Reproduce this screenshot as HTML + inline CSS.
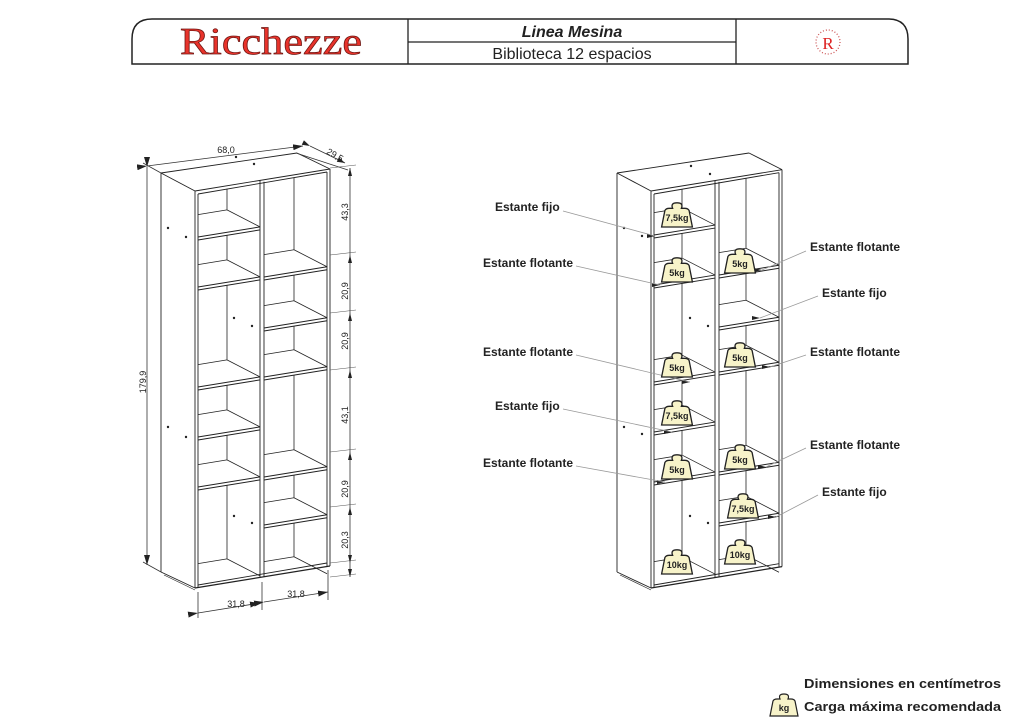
<!DOCTYPE html>
<html><head><meta charset="utf-8">
<style>
html,body{margin:0;padding:0;background:#fff;}
svg{display:block;}
.t{font-family:"Liberation Sans",sans-serif;}
</style></head>
<body>
<svg id="s" width="1024" height="726" viewBox="0 0 1024 726" xmlns="http://www.w3.org/2000/svg">
<defs>
<marker id="ar" markerWidth="10" markerHeight="6" refX="10" refY="3" orient="auto" markerUnits="userSpaceOnUse"><path d="M0,0 L10,3 L0,6 Z" fill="#222"/></marker>
<marker id="ar2" markerWidth="8" markerHeight="5" refX="8" refY="2.5" orient="auto" markerUnits="userSpaceOnUse"><path d="M0,0 L8,2.5 L0,5 Z" fill="#222"/></marker>
<path id="wt" d="M-14,10 L-11,-5 Q-10,-7 -7,-7 L-4,-7 Q-6,-12 0,-12 Q6,-12 4,-7 L7,-7 Q10,-7 11,-5 L14,10 Z" fill="#f7f3c9" stroke="#222" stroke-width="1.2"/>
</defs>
<!-- header -->
<path d="M132,64 L132,39 Q132,19 152,19 L888,19 Q908,19 908,39 L908,64 Z" fill="none" stroke="#222" stroke-width="1.5"/>
<line x1="408" y1="19" x2="408" y2="64" stroke="#222" stroke-width="1.3"/>
<line x1="736" y1="19" x2="736" y2="64" stroke="#222" stroke-width="1.3"/>
<line x1="408" y1="42" x2="736" y2="42" stroke="#222" stroke-width="1.3"/>
<text x="180" y="54" font-family="Liberation Serif,serif" font-size="38" fill="#e8332b" stroke="#6a1410" stroke-width="0.7" textLength="182" lengthAdjust="spacingAndGlyphs">Ricchezze</text>
<text x="572" y="37" text-anchor="middle" class="t" font-size="16" font-style="italic" font-weight="bold" fill="#222">Linea Mesina</text>
<text x="572" y="59" text-anchor="middle" class="t" font-size="16" fill="#222">Biblioteca 12 espacios</text>
<circle cx="828" cy="42" r="12" fill="none" stroke="#c55" stroke-width="1.3" stroke-dasharray="1 2"/>
<text x="828" y="49" text-anchor="middle" font-family="Liberation Serif,serif" font-size="17" fill="#d22">R</text>
<g id="draw"></g>
<!-- left dims -->
<g stroke="#333" stroke-width="0.8" fill="none">
<line x1="147" y1="167" x2="147" y2="565" marker-start="url(#ar)" marker-end="url(#ar)"/>
<line x1="161" y1="173" x2="143" y2="163"/>
<line x1="161" y1="572" x2="143" y2="562"/>
<line x1="147" y1="166" x2="303" y2="146" marker-start="url(#ar)" marker-end="url(#ar)"/>
<line x1="296" y1="153" x2="348" y2="170"/>
<line x1="310" y1="146" x2="345" y2="163" marker-start="url(#ar2)" marker-end="url(#ar2)"/>
<line x1="350" y1="168" x2="350" y2="577"/>
<line x1="198" y1="592" x2="198" y2="618"/>
<line x1="262" y1="582" x2="262" y2="610"/>
<line x1="328" y1="570" x2="328" y2="600"/>
<line x1="198" y1="613" x2="260" y2="603" marker-start="url(#ar)" marker-end="url(#ar)"/>
<line x1="264" y1="602" x2="328" y2="592" marker-start="url(#ar)" marker-end="url(#ar)"/>
</g>
<g id="vt"></g>
<g class="t" font-size="9" fill="#222">
<text x="226" y="153" text-anchor="middle">68,0</text>
<text x="335" y="158" text-anchor="middle" transform="rotate(30 335 155)">29,5</text>
<text transform="translate(146,382) rotate(-90)" text-anchor="middle">179,9</text>
<text transform="translate(348,212) rotate(-90)" text-anchor="middle">43,3</text>
<text transform="translate(348,291) rotate(-90)" text-anchor="middle">20,9</text>
<text transform="translate(348,341) rotate(-90)" text-anchor="middle">20,9</text>
<text transform="translate(348,415) rotate(-90)" text-anchor="middle">43,1</text>
<text transform="translate(348,489) rotate(-90)" text-anchor="middle">20,9</text>
<text transform="translate(348,540) rotate(-90)" text-anchor="middle">20,3</text>
<text x="236" y="607" text-anchor="middle">31,8</text>
<text x="296" y="597" text-anchor="middle">31,8</text>
</g>
<!-- leader lines -->
<g stroke="#999" stroke-width="0.8" fill="none">
<line x1="563" y1="211" x2="655" y2="236"/>
<line x1="576" y1="266" x2="660" y2="285"/>
<line x1="576" y1="355" x2="690" y2="382"/>
<line x1="563" y1="409" x2="672" y2="432"/>
<line x1="576" y1="466" x2="665" y2="482"/>
<line x1="806" y1="251" x2="762" y2="270"/>
<line x1="818" y1="296" x2="760" y2="318"/>
<line x1="806" y1="355" x2="770" y2="367"/>
<line x1="806" y1="448" x2="766" y2="467"/>
<line x1="818" y1="495" x2="776" y2="517"/>
</g>
<g class="t" font-size="12" font-weight="bold" fill="#222">
<text x="495" y="211">Estante fijo</text>
<text x="483" y="267">Estante flotante</text>
<text x="483" y="356">Estante flotante</text>
<text x="495" y="410">Estante fijo</text>
<text x="483" y="467">Estante flotante</text>
<text x="810" y="251">Estante flotante</text>
<text x="822" y="297">Estante fijo</text>
<text x="810" y="356">Estante flotante</text>
<text x="810" y="449">Estante flotante</text>
<text x="822" y="496">Estante fijo</text>
</g>
<g id="wts" class="t" font-size="9" font-weight="bold" fill="#222"></g>
<!-- legend -->
<g class="t" font-size="13" font-weight="bold" fill="#222">
<text x="804" y="688" textLength="197" lengthAdjust="spacingAndGlyphs">Dimensiones en centímetros</text>
<text x="804" y="711" textLength="197" lengthAdjust="spacingAndGlyphs">Carga máxima recomendada</text>
</g>
<use href="#wt" x="784" y="706"/>
<text x="784" y="711" text-anchor="middle" class="t" font-size="9" font-weight="bold" fill="#222">kg</text>
</svg>
<script>
(function(){
var NS="http://www.w3.org/2000/svg",g=document.getElementById('draw');
function L(x1,y1,x2,y2,w,c){var e=document.createElementNS(NS,'line');e.setAttribute('x1',x1);e.setAttribute('y1',y1);e.setAttribute('x2',x2);e.setAttribute('y2',y2);e.setAttribute('stroke',c||'#222');e.setAttribute('stroke-width',w||0.9);g.appendChild(e);}
function C(x,y){var e=document.createElementNS(NS,'circle');e.setAttribute('cx',x);e.setAttribute('cy',y);e.setAttribute('r',1.2);e.setAttribute('fill','#222');g.appendChild(e);}
var s=0.163,dx=-33,dy=-17;
function book(o,W,shL,shR){
 var FR=195+W, y0=191;
 function yt(x){return y0-s*(x-195);}
 L(161+o,173,297+o-(135-W),153);L(297+o-(135-W),153,FR+o,yt(FR));L(161+o,173,195+o,191);
 L(195+o,191,FR+o,yt(FR));L(198+o,194,FR-3+o,yt(FR)+3);
 L(161+o,173,161+o,572);L(161+o,572,195+o,588);L(164+o,575,195+o,590,0.6);
 L(195+o,191,195+o,588);L(198+o,194,198+o,588);
 L(FR+o,yt(FR),FR+o,yt(FR)+397);L(FR-3+o,yt(FR)+3,FR-3+o,yt(FR)+397);
 L(195+o,588,FR+o,yt(FR)+397,1.2);L(198+o,585,FR-3+o,yt(FR)+394);
 var D=195+Math.round(W*0.485);
 L(D+o,yt(D),D+o,yt(D)+397);L(D+4+o,yt(D+4)+2,D+4+o,yt(D+4)+397);
 function col(xl,xr,list){
  var prev=null;
  for(var i=0;i<list.length;i++){
   var y=list[i],yr=y-s*(xr-xl);
   var cx=xr+dx,cy=yr+dy;
   L(xl+o,cy+s*(cx-xl),cx+o,cy,0.8);
   L(cx+o,cy,xr+o,yr,0.8);
   var top=prev===null?yt(cx)+3:prev-s*(cx-xl)+3;
   L(cx+o,top,cx+o,cy,0.8);
   if(i<list.length-1){L(xl+o,y,xr+o,yr,1);L(xl+o,y+3,xr+o,yr+3,1);prev=y;}
  }
 }
 col(198,D,shL);col(D+4,FR-3,shR);
}
book(0,135,[237,287,387,437,487,586],[277,328,377,477,525,584]);
book(456,131,[235,285,382,432,482,584],[275,327,372,472,523,582]);
[[168,228],[186,237],[168,427],[186,437],[234,318],[252,326],[234,516],[252,523],[236,157],[254,164],
 [624,228],[642,236],[624,427],[642,434],[690,318],[708,326],[690,516],[708,523],[691,166],[710,174]].forEach(function(p){C(p[0],p[1]);});
[[655,236],[660,285],[690,382],[672,432],[665,482],[762,270],[760,318],[770,367],[766,467],[776,517]].forEach(function(p){var e=document.createElementNS(NS,'path');e.setAttribute('d','M'+(p[0]-8)+','+(p[1]-2)+' L'+p[0]+','+p[1]+' L'+(p[0]-8)+','+(p[1]+2)+'Z');e.setAttribute('fill','#222');g.appendChild(e);});
var vt=document.getElementById('vt');
[168,255,313,370,452,507,563,577].forEach(function(y){var e=document.createElementNS(NS,'line');e.setAttribute('x1',330);e.setAttribute('x2',356);e.setAttribute('y1',y);e.setAttribute('y2',y-3);e.setAttribute('stroke','#555');e.setAttribute('stroke-width',0.6);vt.appendChild(e);
 var a=document.createElementNS(NS,'path');a.setAttribute('d','M348,'+(y+(y<560?8:-8))+' L350,'+y+' L352,'+(y+(y<560?8:-8))+'Z');a.setAttribute('fill','#222');vt.appendChild(a);});
var w=document.getElementById('wts');
[[677,216,'7,5kg'],[677,271,'5kg'],[740,262,'5kg'],[740,356,'5kg'],[677,366,'5kg'],[677,414,'7,5kg'],[677,468,'5kg'],[740,458,'5kg'],[743,507,'7,5kg'],[740,553,'10kg'],[677,563,'10kg']].forEach(function(p){
 var u=document.createElementNS(NS,'use');u.setAttribute('href','#wt');u.setAttribute('transform','translate('+p[0]+','+p[1]+') scale(1.1)');w.appendChild(u);
 var t=document.createElementNS(NS,'text');t.setAttribute('x',p[0]);t.setAttribute('y',p[1]+5);t.setAttribute('text-anchor','middle');t.textContent=p[2];w.appendChild(t);});
})();
</script>
</body></html>
